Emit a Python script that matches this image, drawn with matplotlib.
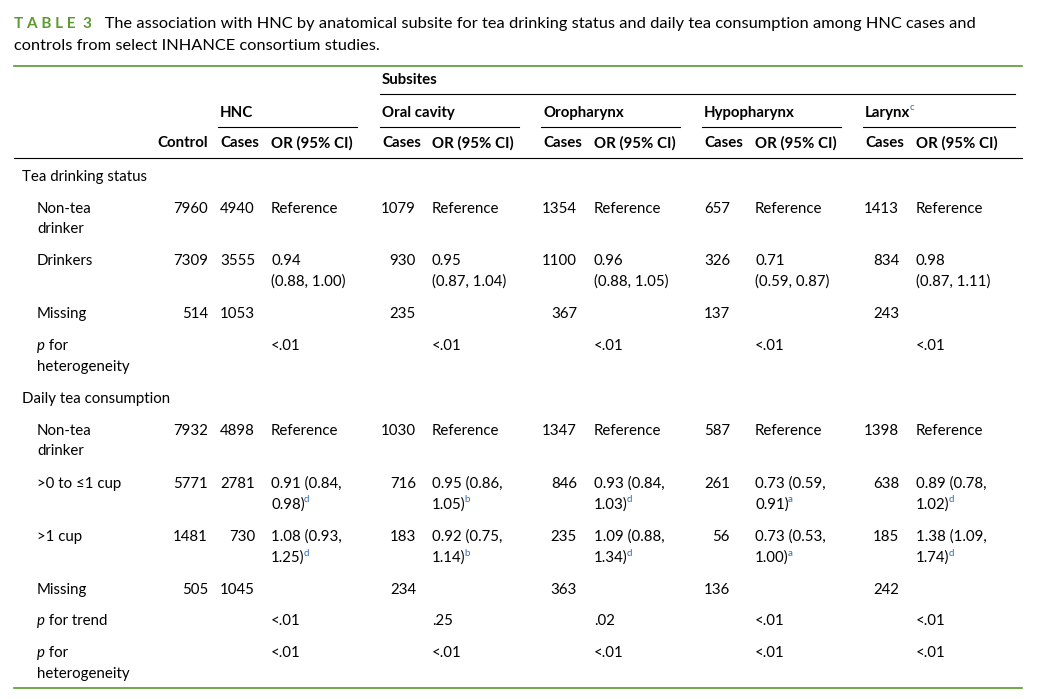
import matplotlib
matplotlib.use("Agg")
import matplotlib.pyplot as plt
from matplotlib.lines import Line2D

W, H = 1059, 699
FONT = "Lato"
FS = 10.8
GREEN = "#5a9a2e"
BLUE = "#2a6fb5"

subsites = ["Oral cavity", "Oropharynx", "Hypopharynx", "Larynx"]
control = ["7960", "7309", "514", "7932", "5771", "1481", "505"]
hnc_cases = ["4940", "3555", "1053", "4898", "2781", "730", "1045"]
oral_cases = ["1079", "930", "235", "1030", "716", "183", "234"]
oro_cases = ["1354", "1100", "367", "1347", "846", "235", "363"]
hypo_cases = ["657", "326", "137", "587", "261", "56", "136"]
lar_cases = ["1413", "834", "243", "1398", "638", "185", "242"]
hnc_or = [("Reference", "", ""), ("0.94", "(0.88, 1.00)", ""), ("", "", ""), ("<.01", "", ""),
          ("Reference", "", ""), ("0.91 (0.84,", "0.98)", "d"), ("1.08 (0.93,", "1.25)", "d"), ("", "", ""),
          ("<.01", "", ""), ("<.01", "", "")]
oral_or = [("Reference", "", ""), ("0.95", "(0.87, 1.04)", ""), ("", "", ""), ("<.01", "", ""),
           ("Reference", "", ""), ("0.95 (0.86,", "1.05)", "b"), ("0.92 (0.75,", "1.14)", "b"), ("", "", ""),
           (".25", "", ""), ("<.01", "", "")]
oro_or = [("Reference", "", ""), ("0.96", "(0.88, 1.05)", ""), ("", "", ""), ("<.01", "", ""),
          ("Reference", "", ""), ("0.93 (0.84,", "1.03)", "d"), ("1.09 (0.88,", "1.34)", "d"), ("", "", ""),
          (".02", "", ""), ("<.01", "", "")]
hypo_or = [("Reference", "", ""), ("0.71", "(0.59, 0.87)", ""), ("", "", ""), ("<.01", "", ""),
           ("Reference", "", ""), ("0.73 (0.59,", "0.91)", "a"), ("0.73 (0.53,", "1.00)", "a"), ("", "", ""),
           ("<.01", "", ""), ("<.01", "", "")]
lar_or = [("Reference", "", ""), ("0.98", "(0.87, 1.11)", ""), ("", "", ""), ("<.01", "", ""),
          ("Reference", "", ""), ("0.89 (0.78,", "1.02)", "d"), ("1.38 (1.09,", "1.74)", "d"), ("", "", ""),
          ("<.01", "", ""), ("<.01", "", "")]

fig = plt.figure(figsize=(W / 100, H / 100), dpi=100)
fig.patch.set_facecolor("white")
renderer = fig.canvas.get_renderer()

def T(x, y, s, ha="left", color="black", size=FS, weight="normal", style="normal", **kw):
    return fig.text(x / W, 1 - y / H, s, ha=ha, va="center", color=color, fontsize=size,
                    family=FONT, weight=weight, style=style, **kw)

def after(t, s, dy=0, dx=0, **kw):
    x1 = t.get_window_extent(renderer).x1
    y = 1 - t.get_position()[1]
    return T(x1 + dx, y * H + dy, s, **kw)

def hline(x0, x1, y, color="black", lw=0.8):
    fig.add_artist(Line2D([x0 / W, x1 / W], [1 - y / H, 1 - y / H], color=color, lw=lw))

t = T(14, 24, "T A B L E  3", color=GREEN, weight="bold", size=11)
after(t, "   The association with HNC by anatomical subsite for tea drinking status and daily tea consumption among HNC cases and", size=11.8)
T(14, 46, "controls from select INHANCE consortium studies.", size=11.8)
hline(14, 1022, 66, color=GREEN, lw=1.2)

T(382, 80, "Subsites", weight="bold")
hline(380, 1015, 94)
T(220, 113, "HNC", weight="bold")
T(382, 113, "Oral cavity", weight="bold")
T(543, 113, "Oropharynx", weight="bold")
T(704, 113, "Hypopharynx", weight="bold")
tl = T(865, 113, "Larynx", weight="bold")
after(tl, "c", dy=-5, dx=-1, color=BLUE, size=7)
for a, b in [(218, 357), (380, 519), (541, 680), (702, 841), (863, 1015)]:
    hline(a, b, 127)
T(208, 143, "Control", ha="right", weight="bold")
for cx, ox in [(220, 271), (382, 432), (543, 594), (704, 755), (865, 916)]:
    T(cx, 143, "Cases", weight="bold")
    T(ox, 143, "OR (95% CI)", weight="bold")
hline(14, 1022, 158)

T(22, 177, "Tea drinking status")
T(37, 209, "Non-tea"); T(37, 229, "drinker")
T(37, 261, "Drinkers")
T(37, 314, "Missing")
p = T(37, 346, "p", style="italic"); after(p, " for"); T(37, 367, "heterogeneity")
T(22, 399, "Daily tea consumption")
T(37, 431, "Non-tea"); T(37, 451, "drinker")
T(37, 484, ">0 to \u22641 cup")
T(37, 537, ">1 cup")
T(37, 590, "Missing")
p = T(37, 621, "p", style="italic"); after(p, " for trend")
p = T(37, 653, "p", style="italic"); after(p, " for"); T(37, 674, "heterogeneity")

count_rows = [209, 261, 314, 431, 484, 537, 590]
or_rows = [209, 261, 314, 346, 431, 484, 537, 590, 621, 653]

for xr, vals in [(208, control), (255, hnc_cases), (416, oral_cases), (577, oro_cases),
                 (730, hypo_cases), (899, lar_cases)]:
    for y, v in zip(count_rows, vals):
        T(xr, y, v, ha="right")

for ox, vals in [(271, hnc_or), (432, oral_or), (594, oro_or), (755, hypo_or), (916, lar_or)]:
    for y, (l1, l2, sup) in zip(or_rows, vals):
        if l1:
            T(ox, y, l1)
        if l2:
            t2 = T(ox, y + 21, l2)
            if sup:
                after(t2, sup, dy=-5, dx=-1, color=BLUE, size=7)

hline(14, 1022, 688, color=GREEN, lw=1.2)

fig.savefig("out.png", dpi=100, facecolor="white")
